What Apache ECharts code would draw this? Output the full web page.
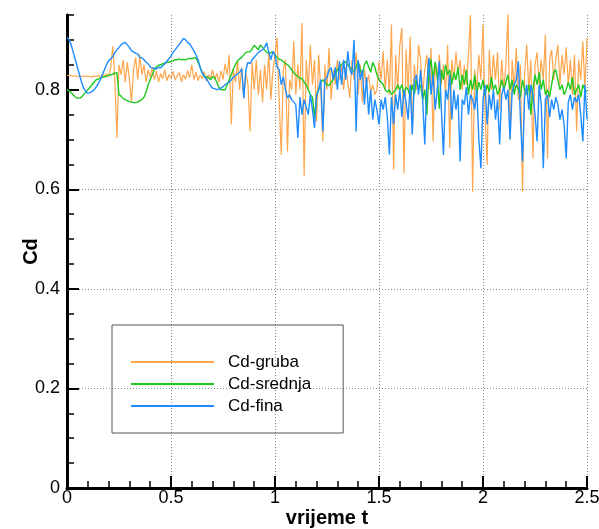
<!DOCTYPE html>
<html>
<head>
<meta charset="utf-8">
<script src="https://cdn.jsdelivr.net/npm/echarts@6/dist/echarts.min.js"></script>
<style>
html,body{margin:0;padding:0;background:#fff;}
#chart{width:599px;height:529px;}
</style>
</head>
<body>
<div id="chart"></div>
<script>
// sample time step (vrijeme t)
const T_STEP = 0.01;
const seriesNames = ['Cd-gruba', 'Cd-srednja', 'Cd-fina'];
const xTicks = [0, 0.5, 1, 1.5, 2, 2.5];
const yTicks = [0, 0.2, 0.4, 0.6, 0.8];

const cdGruba = [
.829,.828,.829,.827,.828,.826,.828,.827,.826,.828,
.826,.827,.825,.828,.826,.829,.825,.830,.827,.832,
.826,.845,.887,.820,.703,.850,.830,.860,.815,.855,
.820,.776,.840,.865,.820,.870,.830,.850,.815,.840,
.826,.845,.820,.838,.815,.832,.822,.840,.818,.830,
.823,.837,.819,.828,.834,.816,.830,.821,.838,.824,
.850,.820,.835,.818,.829,.822,.836,.817,.830,.824,
.840,.820,.833,.815,.838,.820,.852,.830,.870,.730,
.840,.815,.858,.800,.845,.783,.835,.812,.716,.855,
.800,.860,.790,.840,.775,.850,.800,.875,.780,.840,
.870,.905,.780,.669,.840,.860,.676,.820,.800,.897,
.790,.850,.800,.934,.626,.860,.800,.890,.810,.860,
.736,.870,.800,.696,.850,.800,.884,.780,.840,.810,
.860,.820,.850,.800,.845,.815,.783,.860,.820,.875,
.790,.850,.775,.840,.810,.830,.795,.810,.790,.800,
.857,.820,.877,.800,.860,.790,.931,.639,.870,.800,
.890,.924,.632,.880,.800,.907,.710,.850,.800,.890,
.860,.790,.840,.870,.800,.884,.696,.850,.820,.870,
.810,.850,.790,.890,.683,.860,.820,.875,.830,.860,
.800,.850,.810,.870,.950,.595,.840,.800,.870,.820,
.931,.750,.649,.880,.800,.870,.820,.875,.760,.860,
.800,.850,.953,.700,.860,.800,.884,.780,.850,.595,
.830,.890,.800,.860,.662,.850,.875,.810,.860,.820,
.911,.662,.860,.880,.820,.860,.890,.810,.870,.830,
.885,.810,.860,.790,.870,.716,.860,.820,.897,.800,
.904];

const cdSrednja = [
.800,.798,.794,.790,.785,.783,.783,.785,.790,.795,
.800,.805,.810,.815,.820,.821,.823,.825,.826,.827,
.829,.830,.831,.833,.834,.790,.787,.782,.780,.778,
.776,.775,.774,.774,.775,.778,.780,.785,.795,.810,
.820,.830,.840,.846,.849,.850,.852,.853,.855,.855,
.857,.858,.860,.860,.862,.860,.861,.860,.862,.863,
.862,.864,.864,.855,.845,.835,.826,.826,.824,.820,
.826,.824,.815,.805,.800,.800,.800,.810,.820,.830,
.842,.850,.858,.862,.865,.870,.875,.876,.876,.882,
.889,.885,.880,.890,.885,.880,.875,.873,.875,.876,
.870,.865,.861,.860,.856,.853,.850,.846,.840,.834,
.830,.826,.823,.822,.815,.810,.800,.790,.785,.743,
.790,.800,.815,.820,.815,.810,.808,.815,.820,.830,
.840,.846,.850,.855,.856,.850,.845,.840,.837,.845,
.856,.840,.830,.850,.858,.846,.835,.855,.845,.830,
.820,.815,.810,.800,.795,.800,.790,.795,.800,.810,
.800,.810,.790,.805,.800,.785,.810,.790,.820,.800,
.810,.780,.800,.750,.840,.861,.820,.856,.830,.762,
.840,.820,.850,.830,.840,.810,.835,.820,.845,.800,
.830,.810,.840,.790,.820,.800,.830,.790,.815,.800,
.820,.790,.810,.795,.825,.800,.810,.790,.800,.820,
.800,.815,.830,.800,.820,.790,.810,.800,.785,.820,
.800,.790,.810,.750,.800,.830,.810,.835,.800,.820,
.790,.800,.785,.810,.835,.840,.820,.800,.810,.790,
.800,.815,.800,.825,.790,.800,.810,.785,.810,.800,
.795];

const cdFina = [
.905,.900,.890,.875,.860,.845,.830,.815,.803,.797,
.793,.794,.796,.800,.805,.812,.820,.830,.840,.850,
.858,.862,.866,.875,.880,.885,.890,.893,.895,.890,
.885,.878,.876,.873,.872,.865,.864,.860,.855,.852,
.846,.843,.843,.842,.845,.844,.848,.852,.857,.862,
.868,.875,.880,.886,.891,.897,.903,.900,.895,.892,
.885,.878,.870,.860,.845,.833,.827,.822,.815,.808,
.803,.802,.800,.801,.803,.806,.810,.813,.815,.820,
.825,.828,.832,.835,.842,.783,.840,.855,.852,.860,
.865,.870,.875,.878,.880,.885,.894,.875,.860,.877,
.870,.845,.840,.810,.826,.800,.783,.790,.780,.775,
.770,.703,.785,.750,.780,.765,.750,.790,.760,.723,
.790,.800,.820,.716,.820,.825,.840,.844,.820,.845,
.800,.857,.810,.860,.820,.877,.840,.830,.900,.716,
.860,.820,.840,.770,.825,.750,.800,.740,.780,.760,
.730,.780,.760,.785,.745,.670,.785,.730,.790,.760,
.800,.745,.800,.775,.740,.810,.710,.820,.830,.790,
.840,.780,.690,.810,.864,.790,.830,.760,.800,.857,
.760,.669,.800,.780,.830,.740,.800,.760,.790,.656,
.780,.770,.805,.750,.790,.780,.760,.800,.700,.642,
.780,.810,.730,.790,.760,.800,.740,.780,.690,.790,
.805,.780,.800,.700,.795,.810,.820,.857,.740,.656,
.785,.810,.760,.810,.790,.750,.696,.810,.770,.642,
.780,.790,.745,.780,.760,.785,.770,.740,.760,.730,
.662,.775,.790,.760,.785,.775,.790,.750,.696,.810,
.740];

function toPairs(vals) {
  return vals.map((v, i) => [+(i * T_STEP).toFixed(2), v]);
}

const FONT = '"Liberation Sans", Arial, sans-serif';
const chart = echarts.init(document.getElementById('chart'), null, {renderer: 'canvas'});

const colors = ['#ffa64d', '#1ec81e', '#1e8cff'];
const datasets = [cdGruba, cdSrednja, cdFina];

chart.setOption({
  animation: false,
  backgroundColor: '#ffffff',
  grid: {left: 67, right: 12, top: 15, bottom: 41, containLabel: false, outerBoundsMode: 'none'},
  legend: {
    data: seriesNames,
    orient: 'vertical',
    left: 112,
    top: 325,
    padding: [26, 32, 16, 19],
    itemGap: 0,
    itemWidth: 83,
    itemHeight: 2,
    icon: 'rect',
    borderColor: '#555555',
    borderWidth: 1,
    selectedMode: false,
    textStyle: {fontFamily: FONT, fontSize: 17, color: '#000', lineHeight: 22, padding: [0, 0, 0, 9]}
  },
  xAxis: {
    type: 'value',
    min: 0, max: 2.5, interval: 0.5,
    name: 'vrijeme t',
    nameLocation: 'middle',
    nameGap: 20,
    nameMoveOverlap: false,
    nameTextStyle: {fontFamily: FONT, fontSize: 20, fontWeight: 'bold', color: '#000'},
    axisLine: {show: true, onZero: false, lineStyle: {color: '#000', width: 3}},
    axisTick: {show: true, inside: true, length: 12, lineStyle: {color: '#000', width: 2}},
    minorTick: {show: true, splitNumber: 5, length: 7, lineStyle: {color: '#000', width: 1.5}},
    axisLabel: {fontFamily: FONT, fontSize: 18, color: '#000', margin: 1},
    splitLine: {show: true, showMinLine: false, lineStyle: {color: '#888', type: [1, 2], width: 1}}
  },
  yAxis: [{
    type: 'value',
    min: 0, max: 0.95, interval: 0.2,
    name: 'Cd',
    nameLocation: 'middle',
    nameGap: 26,
    nameMoveOverlap: false,
    nameTextStyle: {fontFamily: FONT, fontSize: 20, fontWeight: 'bold', color: '#000'},
    axisLine: {show: true, onZero: false, lineStyle: {color: '#000', width: 3}},
    axisTick: {show: true, inside: true, length: 12, customValues: yTicks, lineStyle: {color: '#000', width: 2}},
    axisLabel: {fontFamily: FONT, fontSize: 18, color: '#000', margin: 7,
      formatter: v => (v > 0.9 ? '' : String(+v.toFixed(2)))},
    splitLine: {show: true, showMinLine: false, showMaxLine: false, lineStyle: {color: '#888', type: [1, 2], width: 1}}
  }, {
    type: 'value',
    position: 'left',
    min: 0, max: 0.95, interval: 0.05,
    axisLine: {show: false},
    axisTick: {show: true, inside: true, length: 7, lineStyle: {color: '#000', width: 1.5}},
    axisLabel: {show: false},
    splitLine: {show: false}
  }],
  series: datasets.map((vals, k) => ({
    name: seriesNames[k],
    type: 'line',
    yAxisIndex: 0,
    data: toPairs(vals),
    symbol: 'none',
    showSymbol: false,
    sampling: null,
    silent: true,
    color: colors[k],
    lineStyle: {color: colors[k], width: k === 0 ? 1.2 : 1.4},
    emphasis: {disabled: true},
    z: 2 + k
  }))
});
</script>
</body>
</html>
